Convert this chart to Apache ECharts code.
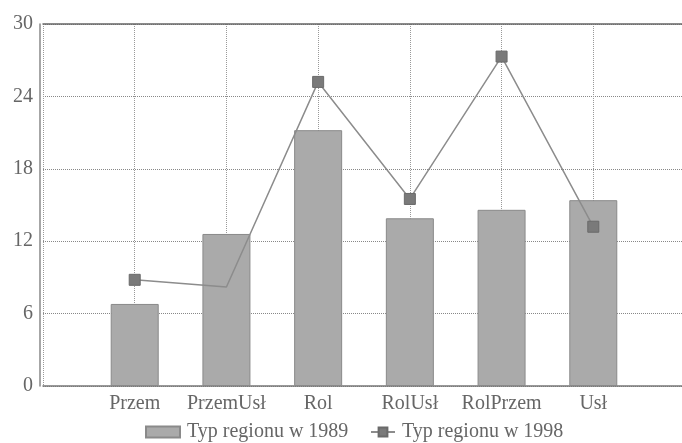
<!DOCTYPE html>
<html><head><meta charset="utf-8">
<script src="https://cdn.jsdelivr.net/npm/echarts@6/dist/echarts.min.js"></script>
<style>html,body{margin:0;padding:0;background:#fff;overflow:hidden}#c{width:688px;height:443px}</style>
</head><body><div id="c"></div>
<script>
var categories = ['Przem', 'PrzemUsł', 'Rol', 'RolUsł', 'RolPrzem', 'Usł'];
var values1989 = [6.8, 12.6, 21.2, 13.9, 14.6, 15.4];
var values1998 = [8.8, 8.2, 25.2, 15.5, 27.3, 13.2];
var yTicks = [0, 6, 12, 18, 24, 30];
var seriesNames = ['Typ regionu w 1989', 'Typ regionu w 1998'];

var axisCats = [''].concat(categories).concat(['']);
var barData = [null].concat(values1989).concat([null]);
var lineData = [null].concat(values1998.map(function (v, i) {
  return i === 1 ? { value: v, symbol: 'none' } : v;
})).concat([null]);
var font = 'Liberation Serif';
var legendText = { fontFamily: font, fontSize: 20, color: '#666', padding: [0, 0, 0, 2] };
var chart = echarts.init(document.getElementById('c'));
chart.setOption({
  animation: false,
  textStyle: { fontFamily: font },
  grid: { left: 43, right: 0, top: 24, bottom: 57, containLabel: false },
  legend: [{
    bottom: 1, left: 145, padding: 0, itemWidth: 34, itemHeight: 11, itemGap: 0,
    textStyle: legendText,
    data: [{ name: seriesNames[0], icon: 'rect' }]
  }, {
    bottom: 1, left: 370, padding: 0, itemWidth: 24, itemHeight: 11, itemGap: 0,
    textStyle: legendText,
    data: [{ name: seriesNames[1] }]
  }],
  xAxis: [{
    type: 'category', data: axisCats, boundaryGap: false,
    axisLine: { lineStyle: { color: '#777', width: 1.5 } },
    axisTick: { show: false },
    axisLabel: { interval: 0, fontFamily: font, fontSize: 20, color: '#666', margin: 8 },
    splitLine: { show: true, interval: 0, lineStyle: { type: 'dotted', color: '#999' } }
  }, {
    type: 'category', data: axisCats, boundaryGap: false, position: 'top',
    axisLine: { show: true, lineStyle: { color: '#666', width: 1.5 } },
    axisTick: { show: false }, axisLabel: { show: false }, splitLine: { show: false }
  }],
  yAxis: {
    type: 'value', min: yTicks[0], max: yTicks[yTicks.length - 1], interval: 6, offset: 3,
    axisLine: { show: true, lineStyle: { color: '#888', width: 1.5 } },
    axisTick: { show: false },
    axisLabel: { fontFamily: font, fontSize: 20, color: '#666', margin: 7 },
    splitLine: { show: true, lineStyle: { type: 'dotted', color: '#888' } }
  },
  series: [{
    name: seriesNames[0], type: 'bar', data: barData, barWidth: 48,
    itemStyle: { color: '#aaaaaa', borderColor: '#8a8a8a', borderWidth: 1 },
    z: 2
  }, {
    name: seriesNames[1], type: 'line', data: lineData, connectNulls: false,
    symbol: 'rect', symbolSize: 11, showAllSymbol: true,
    lineStyle: { color: '#8c8c8c', width: 1.5 },
    itemStyle: { color: '#7a7a7a', borderColor: '#6a6a6a', borderWidth: 1 },
    z: 3
  }]
});
</script></body></html>
